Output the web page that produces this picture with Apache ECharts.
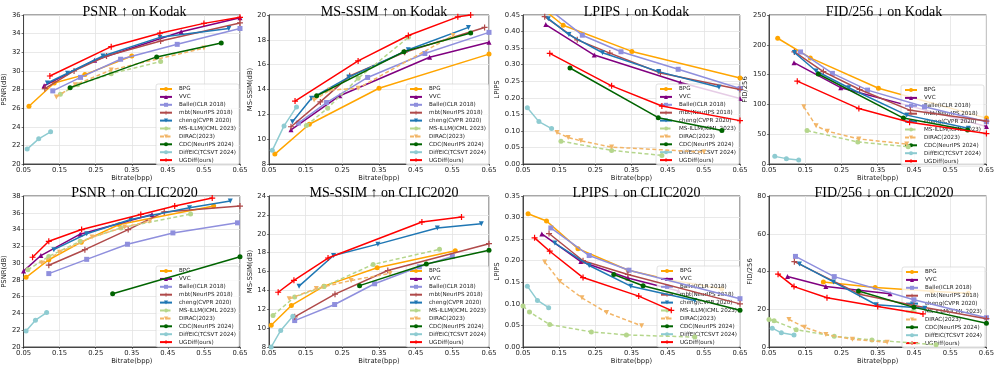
<!DOCTYPE html>
<html>
<head>
<meta charset="utf-8">
<script src="https://cdn.jsdelivr.net/npm/echarts@6/dist/echarts.min.js"></script>
<style>
  html, body { margin: 0; padding: 0; background: #fff; }
  #chart { width: 997px; height: 366px; }
</style>
</head>
<body>
<div id="chart"></div>
<script>
const methods = ['BPG', 'VVC', 'Balle(ICLR 2018)', 'mbt(NeurIPS 2018)', 'cheng(CVPR 2020)',
  'MS-ILLM(ICML 2023)', 'DIRAC(2023)', 'CDC(NeurIPS 2024)', 'DiffEIC(TCSVT 2024)', 'UGDiff(ours)'];
const xTicks = [0.05, 0.15, 0.25, 0.35, 0.45, 0.55, 0.65];

// [bpp, value] per method, same order as methods
const psnrKodak = [
  [[0.065, 26.2], [0.135, 28.7], [0.22, 29.6], [0.35, 31.6]],
  [[0.107, 28.4], [0.247, 31.15], [0.487, 34.2], [0.65, 35.7]],
  [[0.131, 27.85], [0.208, 29.3], [0.319, 31.25], [0.476, 32.85], [0.65, 34.55]],
  [[0.109, 28.1], [0.19, 30.0], [0.28, 31.6], [0.43, 33.2], [0.65, 35.15]],
  [[0.116, 28.7], [0.172, 29.75], [0.27, 31.6], [0.428, 33.6], [0.619, 34.55]],
  [[0.152, 27.5], [0.2, 28.5], [0.293, 29.7], [0.43, 31.0]],
  [[0.141, 27.2], [0.193, 28.5], [0.293, 30.1], [0.55, 32.45]],
  [[0.179, 28.2], [0.419, 31.5], [0.598, 33.0]],
  [[0.06, 21.6], [0.092, 22.7], [0.125, 23.45]],
  [[0.123, 29.45], [0.293, 32.6], [0.428, 34.05], [0.55, 35.1], [0.65, 35.75]]
];
const ssimKodak = [
  [[0.066, 8.8], [0.16, 11.2], [0.35, 14.1], [0.65, 16.85]],
  [[0.11, 10.75], [0.243, 13.5], [0.488, 16.6], [0.65, 17.8]],
  [[0.13, 11.3], [0.207, 12.95], [0.319, 14.97], [0.475, 16.9], [0.65, 18.6]],
  [[0.11, 11.0], [0.19, 13.0], [0.27, 15.1], [0.42, 17.0], [0.638, 19.0]],
  [[0.114, 11.4], [0.166, 13.3], [0.268, 15.0], [0.43, 17.2], [0.594, 19.0]],
  [[0.152, 11.1], [0.21, 12.5], [0.293, 14.9], [0.43, 18.2]],
  [[0.173, 13.15], [0.216, 13.95], [0.293, 14.1], [0.552, 18.35]],
  [[0.18, 13.5], [0.418, 17.05], [0.6, 18.55]],
  [[0.059, 9.1], [0.091, 11.07], [0.125, 12.6]],
  [[0.121, 13.07], [0.293, 16.3], [0.43, 18.35], [0.565, 19.85], [0.6, 20.0]]
];
const lpipsKodak = [
  [[0.12, 0.455], [0.161, 0.419], [0.351, 0.34], [0.65, 0.26]],
  [[0.113, 0.421], [0.247, 0.329], [0.485, 0.246], [0.65, 0.198]],
  [[0.125, 0.465], [0.214, 0.389], [0.321, 0.339], [0.479, 0.286], [0.65, 0.228]],
  [[0.11, 0.445], [0.2, 0.375], [0.29, 0.335], [0.43, 0.275], [0.65, 0.225]],
  [[0.12, 0.439], [0.177, 0.391], [0.27, 0.336], [0.425, 0.279], [0.592, 0.232]],
  [[0.155, 0.069], [0.295, 0.041], [0.434, 0.026]],
  [[0.144, 0.095], [0.175, 0.08], [0.21, 0.07], [0.295, 0.051], [0.55, 0.036]],
  [[0.18, 0.29], [0.424, 0.14], [0.6, 0.101]],
  [[0.062, 0.17], [0.094, 0.128], [0.129, 0.107]],
  [[0.124, 0.334], [0.295, 0.236], [0.434, 0.175], [0.65, 0.131]]
];
const fidKodak = [
  [[0.074, 211], [0.164, 178], [0.352, 127], [0.65, 77]],
  [[0.119, 170], [0.248, 128], [0.484, 90], [0.65, 63]],
  [[0.137, 188], [0.225, 152], [0.322, 124], [0.479, 96], [0.65, 71]],
  [[0.12, 188], [0.2, 155], [0.3, 125], [0.44, 90], [0.65, 72]],
  [[0.12, 187], [0.18, 156], [0.27, 128], [0.43, 82], [0.6, 60]],
  [[0.155, 56], [0.295, 37], [0.434, 29]],
  [[0.146, 96], [0.18, 64], [0.211, 55], [0.298, 42], [0.43, 33.5]],
  [[0.186, 151], [0.421, 77], [0.598, 57]],
  [[0.066, 12.8], [0.098, 9], [0.132, 6.7]],
  [[0.128, 139], [0.298, 93], [0.438, 70], [0.65, 51]]
];
const psnrClic = [
  [[0.057, 28.3], [0.12, 30.4], [0.21, 32.5], [0.315, 34.6], [0.577, 36.8]],
  [[0.05, 29.05], [0.098, 30.9], [0.207, 33.45], [0.406, 35.8]],
  [[0.12, 28.75], [0.225, 30.45], [0.338, 32.25], [0.464, 33.6], [0.643, 34.8]],
  [[0.12, 29.75], [0.22, 31.6], [0.34, 34.0], [0.44, 36.1], [0.65, 36.8]],
  [[0.134, 31.6], [0.225, 33.5], [0.347, 35.2], [0.51, 36.6], [0.623, 37.4]],
  [[0.062, 29.2], [0.12, 30.8], [0.207, 32.6], [0.32, 34.2], [0.513, 35.85]],
  [[0.1, 30.0], [0.15, 31.3], [0.24, 33.1], [0.33, 34.3], [0.4, 35.0]],
  [[0.297, 26.35], [0.65, 30.75]],
  [[0.057, 21.9], [0.083, 23.2], [0.114, 24.1]],
  [[0.075, 30.7], [0.12, 32.6], [0.211, 34.0], [0.375, 35.8], [0.469, 36.8], [0.573, 37.75]]
];
const ssimClic = [
  [[0.056, 10.3], [0.111, 12.4], [0.2, 14.45], [0.345, 16.4], [0.558, 18.2]],
  [],
  [[0.12, 10.8], [0.229, 12.5], [0.338, 14.7], [0.46, 16.5], [0.55, 17.6]],
  [[0.12, 11.2], [0.23, 13.6], [0.374, 16.1], [0.65, 18.95]],
  [[0.132, 14.45], [0.226, 17.7], [0.347, 18.9], [0.509, 20.6], [0.629, 21.07]],
  [[0.061, 11.35], [0.12, 13.3], [0.2, 14.4], [0.334, 16.75], [0.515, 18.35]],
  [[0.105, 13.1], [0.179, 14.2], [0.274, 15.05], [0.38, 15.8]],
  [[0.297, 14.5], [0.479, 16.8], [0.65, 18.25]],
  [[0.056, 8.0], [0.082, 9.76], [0.115, 11.25]],
  [[0.075, 13.8], [0.118, 15.06], [0.211, 17.43], [0.467, 21.25], [0.575, 21.77]]
];
const lpipsClic = [
  [[0.064, 0.309], [0.115, 0.292], [0.202, 0.228], [0.341, 0.178], [0.46, 0.155], [0.6, 0.135]],
  [[0.102, 0.262], [0.21, 0.198], [0.34, 0.16], [0.48, 0.13]],
  [[0.127, 0.276], [0.233, 0.212], [0.343, 0.178], [0.65, 0.112]],
  [[0.122, 0.263], [0.216, 0.2], [0.34, 0.168], [0.65, 0.1]],
  [[0.138, 0.241], [0.233, 0.189], [0.348, 0.141], [0.525, 0.108]],
  [[0.05, 0.095], [0.068, 0.081], [0.124, 0.052], [0.239, 0.035], [0.336, 0.028], [0.525, 0.023]],
  [[0.11, 0.197], [0.152, 0.152], [0.213, 0.114], [0.281, 0.08], [0.378, 0.049]],
  [[0.301, 0.168], [0.382, 0.142], [0.65, 0.085]],
  [[0.062, 0.141], [0.09, 0.108], [0.121, 0.091]],
  [[0.082, 0.253], [0.124, 0.222], [0.216, 0.161], [0.37, 0.118], [0.46, 0.085]]
];
const fidClic = [
  [[0.2, 34.5], [0.343, 31.5], [0.5, 29.5], [0.6, 28.5]],
  [[0.101, 37.3], [0.207, 32], [0.384, 28.2]],
  [[0.123, 48], [0.23, 37.3], [0.45, 25], [0.65, 15.5]],
  [[0.12, 45.2], [0.3, 28], [0.45, 22], [0.65, 15]],
  [[0.134, 44], [0.228, 34.5], [0.346, 22.4], [0.48, 20.5]],
  [[0.05, 14.6], [0.064, 13.9], [0.125, 9.2], [0.23, 5.7], [0.334, 3.7], [0.511, 1.2]],
  [[0.105, 14.6], [0.148, 10.5], [0.207, 6.6], [0.28, 4.1], [0.376, 2.5]],
  [[0.297, 29.7], [0.45, 21], [0.65, 12.6]],
  [[0.059, 10], [0.084, 7.5], [0.119, 6.4]],
  [[0.075, 38.6], [0.119, 32], [0.21, 26.1], [0.35, 21.5], [0.475, 17.5]]
];

const plus = 'path://M4,0H6V4H10V6H6V10H4V6H0V4H4Z';
const tri = 'path://M0,0L10,0L5,9Z';
const looks = [
  { color: '#ffa500', symbol: 'circle', size: 5 },
  { color: '#800080', symbol: 'triangle', size: 5 },
  { color: '#8f8fdd', symbol: 'rect', size: 5 },
  { color: '#b04a4a', symbol: plus, size: 6 },
  { color: '#1f77b4', symbol: tri, size: 5 },
  { color: '#b5d68c', symbol: 'circle', size: 5, dash: true },
  { color: '#f2b567', symbol: tri, size: 5, dash: true },
  { color: '#006400', symbol: 'circle', size: 5 },
  { color: '#8ecbd1', symbol: 'circle', size: 5 },
  { color: '#ff0000', symbol: plus, size: 6 }
];

const panels = [
  { title: 'PSNR ↑ on Kodak', yName: 'PSNR(dB)', data: psnrKodak, min: 20, max: 36, step: 2, dec: 0, box: [19, 15, 221, 149], gap: 14, leg: [758, 84] },
  { title: 'MS-SSIM ↑ on Kodak', yName: 'MS-SSIM(dB)', data: ssimKodak, min: 8, max: 20, step: 2, dec: 0, box: [269, 15, 220, 149], gap: 14, leg: [508, 84] },
  { title: 'LPIPS ↓ on Kodak', yName: 'LPIPS', data: lpipsKodak, min: 0, max: 0.45, step: 0.05, dec: 2, box: [523, 15, 217, 149], gap: 20, leg: [258, 84] },
  { title: 'FID/256 ↓ on Kodak', yName: 'FID/256', data: fidKodak, min: 0, max: 250, step: 50, dec: 0, box: [769, 15, 220, 149], gap: 16, leg: [13, 85] },
  { title: 'PSNR ↑ on CLIC2020', yName: 'PSNR(dB)', data: psnrClic, min: 20, max: 38, step: 2, dec: 0, box: [19, 196, 221, 151], gap: 14, leg: [758, 266] },
  { title: 'MS-SSIM ↑ on CLIC2020', yName: 'MS-SSIM(dB)', data: ssimClic, min: 8, max: 24, step: 2, dec: 0, box: [269, 196, 220, 151], gap: 14, leg: [508, 266] },
  { title: 'LPIPS ↓ on CLIC2020', yName: 'LPIPS', data: lpipsClic, min: 0, max: 0.35, step: 0.05, dec: 2, box: [523, 196, 217, 151], gap: 20, leg: [257, 266] },
  { title: 'FID/256 ↓ on CLIC2020', yName: 'FID/256', data: fidClic, min: 0, max: 80, step: 20, dec: 0, box: [769, 196, 220, 151], gap: 14, leg: [12, 267] }
];

const sans = 'DejaVu Sans';
const grid = [], xAxis = [], yAxis = [], title = [], legend = [], series = [];

panels.forEach((p, i) => {
  const [l, t, w, h] = p.box;
  grid.push({ left: l, top: t, width: w, height: h, show: true, borderColor: '#222', borderWidth: 0.8 });
  title.push({
    text: p.title, left: l + w / 2, top: t - 15, textAlign: 'center',
    textStyle: { fontFamily: 'Liberation Serif', fontSize: 14, fontWeight: 'normal', color: '#000' }
  });
  xAxis.push({
    gridIndex: i, type: 'value', min: 0.05, max: 0.65,
    name: 'Bitrate(bpp)', nameLocation: 'middle', nameGap: 11,
    nameTextStyle: { fontFamily: sans, fontSize: 6.8, color: '#222' },
    axisLine: { lineStyle: { color: '#222', width: 0.8 } },
    axisTick: { show: true, length: 2, customValues: xTicks, lineStyle: { color: '#222', width: 0.6 } },
    axisLabel: { customValues: xTicks, fontFamily: sans, fontSize: 6.8, color: '#222', margin: 3, formatter: v => v.toFixed(2) },
    splitLine: { show: true, lineStyle: { color: '#e3e3e3', width: 0.8 } }
  });
  yAxis.push({
    gridIndex: i, type: 'value', min: p.min, max: p.max, interval: p.step,
    name: p.yName, nameLocation: 'middle', nameGap: p.gap, nameRotate: 90,
    nameTextStyle: { fontFamily: sans, fontSize: 6.8, color: '#222' },
    axisLine: { show: true, lineStyle: { color: '#222', width: 0.8 } },
    axisTick: { show: true, length: 2, lineStyle: { color: '#222', width: 0.6 } },
    axisLabel: { fontFamily: sans, fontSize: 6.8, color: '#222', margin: 3, formatter: v => v.toFixed(p.dec) },
    splitLine: { show: true, lineStyle: { color: '#e3e3e3', width: 0.8 } }
  });
  legend.push({
    data: methods, orient: 'vertical', right: p.leg[0], top: p.leg[1],
    selectedMode: false, itemWidth: 12, itemHeight: 5, itemGap: 1.9,
    padding: [2, 3, 2, 3], backgroundColor: 'rgba(255,255,255,0.8)',
    borderColor: '#cfcfcf', borderWidth: 0.6, borderRadius: 2,
    textStyle: { fontFamily: sans, fontSize: 5.6, color: '#222', lineHeight: 6, padding: [0, 0, 0, 2] }
  });
  methods.forEach((m, k) => {
    const pts = p.data[k];
    if (!pts.length) return;
    const s = looks[k];
    series.push({
      name: m, type: 'line', xAxisIndex: i, yAxisIndex: i, data: pts,
      symbol: s.symbol, symbolSize: s.size, z: 2 + k,
      itemStyle: { color: s.color },
      lineStyle: { color: s.color, width: 1.5, type: s.dash ? [4, 2.5] : 'solid' },
      animation: false
    });
  });
});

const chart = echarts.init(document.getElementById('chart'));
chart.setOption({ animation: false, title, grid, xAxis, yAxis, legend, series });
</script>
</body>
</html>
